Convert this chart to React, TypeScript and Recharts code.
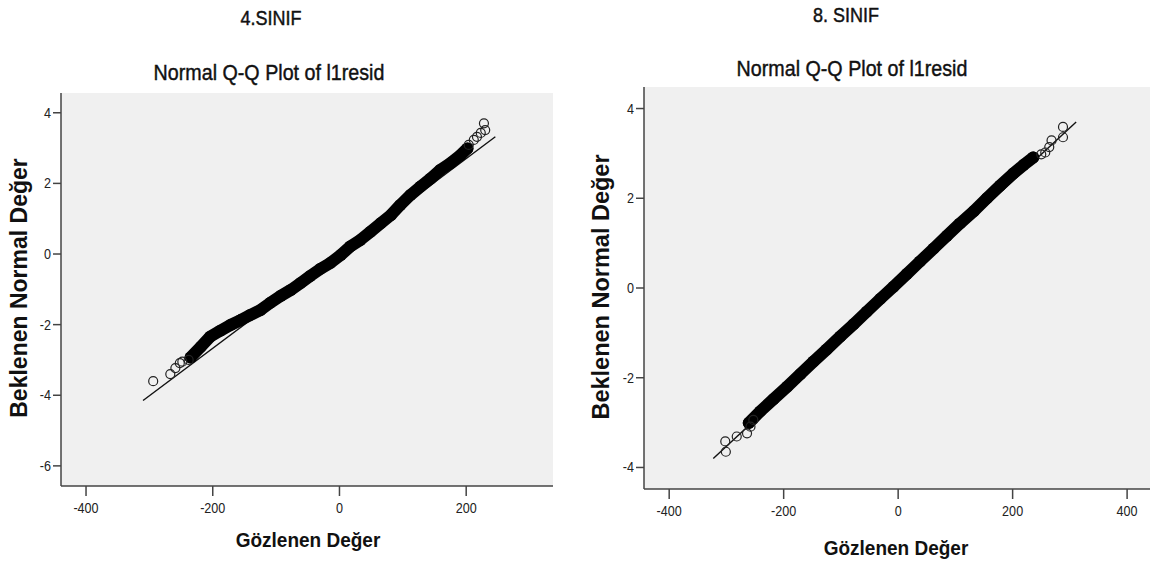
import React from 'react';
import { ScatterChart, Scatter, XAxis, YAxis, CartesianGrid, ReferenceLine } from 'recharts';

// 4. SINIF — observed residual (x) vs expected normal value (y)
const sinif4BandObs = [-235, -219, -204, -188, -172, -156, -141, -125, -109, -93, -77, -62, -46, -30, -14, 2, 17, 33, 49, 65, 81, 96, 112, 128, 144, 159, 175, 191, 202];
const sinif4BandExp = [-2.93, -2.63, -2.34, -2.17, -2.01, -1.87, -1.73, -1.59, -1.38, -1.19, -1.02, -0.83, -0.62, -0.42, -0.25, -0.03, 0.21, 0.4, 0.63, 0.87, 1.1, 1.39, 1.67, 1.91, 2.14, 2.38, 2.57, 2.8, 2.99];
const sinif4TailObs = [-294, -267, -259, -252, -248, -238, 204, 212, 217, 223, 230, 228];
const sinif4TailExp = [-3.6, -3.4, -3.23, -3.09, -3.05, -3.0, 3.09, 3.23, 3.32, 3.43, 3.51, 3.7];
const sinif4LineObs = [-310, 246];
const sinif4LineExp = [-4.15, 3.32];
const sinif4XTicks = [-400, -200, 0, 200];
const sinif4YTicks = [-6, -4, -2, 0, 2, 4];

// 8. SINIF
const sinif8BandObs = [-261, -241, -218, -194, -171, -148, -125, -101, -78, -55, -31, -8, 15, 38, 62, 85, 108, 132, 155, 178, 201, 219, 236];
const sinif8BandExp = [-3.01, -2.75, -2.48, -2.2, -1.92, -1.64, -1.37, -1.08, -0.81, -0.53, -0.24, 0.03, 0.31, 0.59, 0.88, 1.16, 1.44, 1.71, 2.0, 2.28, 2.55, 2.74, 2.91];
const sinif8TailObs = [-302, -301, -282, -264, -258, -253, 250, 257, 264, 268, 288, 288];
const sinif8TailExp = [-3.42, -3.65, -3.31, -3.24, -3.09, -2.94, 2.98, 3.02, 3.14, 3.29, 3.36, 3.59];
const sinif8LineObs = [-323, 311];
const sinif8LineExp = [-3.8, 3.7];
const sinif8XTicks = [-400, -200, 0, 200, 400];
const sinif8YTicks = [-4, -2, 0, 2, 4];

const zip = (xs: number[], ys: number[]) => xs.map((x, i) => ({ x, y: ys[i] }));

const FONT = "'Liberation Sans', Arial, sans-serif";

const XTick = (props: any) => {
  const { x, y, payload } = props;
  return (
    <g transform={`translate(${x},${y})`}>
      <text x={0} y={0} dy={15} textAnchor="middle" fill="#222" fontSize={15} fontFamily={FONT} transform="scale(0.84,1)">
        {payload.value}
      </text>
    </g>
  );
};

const YTick = (props: any) => {
  const { x, y, payload } = props;
  return (
    <g transform={`translate(${x},${y})`}>
      <text x={0} y={0} dy={5} textAnchor="end" fill="#222" fontSize={15} fontFamily={FONT} transform="scale(0.84,1)">
        {payload.value}
      </text>
    </g>
  );
};

const bandDot = (p: any) => <circle cx={p.cx} cy={p.cy} r={6} fill="#000" />;
const ringDot = (p: any) => <circle cx={p.cx} cy={p.cy} r={4.5} fill="none" stroke="#222" strokeWidth={1.2} />;

function Txt({ cx, cy, size, bold, rotate = 0, sx = 1, sy = 1, heavy, children }: any) {
  return (
    <div
      style={{
        position: 'absolute',
        left: cx,
        top: cy,
        transform: `translate(-50%,-50%) rotate(${rotate}deg) scale(${sx},${sy})`,
        fontSize: size,
        fontWeight: bold ? 700 : 400,
        fontFamily: FONT,
        whiteSpace: 'nowrap',
        lineHeight: 1,
        color: '#111',
        WebkitTextStroke: heavy ? '0.4px #111' : undefined,
      }}
    >
      {children}
    </div>
  );
}

function QQPanel(props: any) {
  const { width, top, right, yAxisW, xAxisH, xDomain, yDomain, xTicks, yTicks, band, tail, line } = props;
  return (
    <ScatterChart width={width} height={563} margin={{ top, right, bottom: 0, left: 0 }}>
      <CartesianGrid fill="#f0f0f0" horizontal={false} vertical={false} />
      <XAxis
        type="number"
        dataKey="x"
        domain={xDomain}
        ticks={xTicks}
        allowDataOverflow
        height={xAxisH}
        tickSize={10}
        tickMargin={2}
        tick={<XTick />}
        axisLine={{ stroke: '#444', strokeWidth: 1.5 }}
        tickLine={{ stroke: '#444', strokeWidth: 1.5 }}
      />
      <YAxis
        type="number"
        dataKey="y"
        domain={yDomain}
        ticks={yTicks}
        allowDataOverflow
        width={yAxisW}
        tickSize={8}
        tickMargin={2}
        tick={<YTick />}
        axisLine={{ stroke: '#444', strokeWidth: 1.5 }}
        tickLine={{ stroke: '#444', strokeWidth: 1.5 }}
      />
      <XAxis xAxisId="top" orientation="top" type="number" domain={[0, 1]} height={0} tick={false} tickLine={false} axisLine={{ stroke: '#666', strokeWidth: 1.5 }} />
      <YAxis yAxisId="right" orientation="right" type="number" domain={[0, 1]} width={0} tick={false} tickLine={false} axisLine={{ stroke: '#666', strokeWidth: 1.5 }} />
      <ReferenceLine segment={line} stroke="#111" strokeWidth={1.4} ifOverflow="visible" />
      <Scatter
        data={band}
        shape={bandDot}
        fill="#000"
        line={{ stroke: '#000', strokeWidth: 12, strokeLinecap: 'round', strokeLinejoin: 'round' }}
        isAnimationActive={false}
      />
      <Scatter data={tail} shape={ringDot} isAnimationActive={false} />
    </ScatterChart>
  );
}

export default function App() {
  return (
    <div style={{ position: 'absolute', left: 0, top: 0, width: 1151, height: 563, background: '#fff', overflow: 'hidden' }}>
      <div style={{ position: 'absolute', left: 0, top: 0 }}>
        <QQPanel
          width={560}
          top={93}
          right={7}
          yAxisW={61}
          xAxisH={77}
          xDomain={[-439.5, 337]}
          yDomain={[-6.57, 4.56]}
          xTicks={sinif4XTicks}
          yTicks={sinif4YTicks}
          band={zip(sinif4BandObs, sinif4BandExp)}
          tail={zip(sinif4TailObs, sinif4TailExp)}
          line={zip(sinif4LineObs, sinif4LineExp)}
        />
      </div>
      <div style={{ position: 'absolute', left: 580, top: 0 }}>
        <QQPanel
          width={571}
          top={87}
          right={1}
          yAxisW={64}
          xAxisH={74}
          xDomain={[-444, 440]}
          yDomain={[-4.48, 4.48]}
          xTicks={sinif8XTicks}
          yTicks={sinif8YTicks}
          band={zip(sinif8BandObs, sinif8BandExp)}
          tail={zip(sinif8TailObs, sinif8TailExp)}
          line={zip(sinif8LineObs, sinif8LineExp)}
        />
      </div>

      <Txt cx={271} cy={18} size={18} sy={1.15} heavy>4.SINIF</Txt>
      <Txt cx={269} cy={72} size={20.5} sx={0.96} sy={1.12} heavy>Normal Q-Q Plot of l1resid</Txt>
      <Txt cx={19} cy={288} size={23} bold rotate={-90}>Beklenen Normal Değer</Txt>
      <Txt cx={308} cy={540} size={19} bold sy={1.1}>Gözlenen Değer</Txt>

      <Txt cx={846} cy={15} size={18} sy={1.15} heavy>8. SINIF</Txt>
      <Txt cx={852} cy={68} size={20.5} sx={0.96} sy={1.12} heavy>Normal Q-Q Plot of l1resid</Txt>
      <Txt cx={602} cy={287} size={23.5} bold rotate={-90}>Beklenen Normal Değer</Txt>
      <Txt cx={896} cy={548} size={19} bold sy={1.1}>Gözlenen Değer</Txt>
    </div>
  );
}
